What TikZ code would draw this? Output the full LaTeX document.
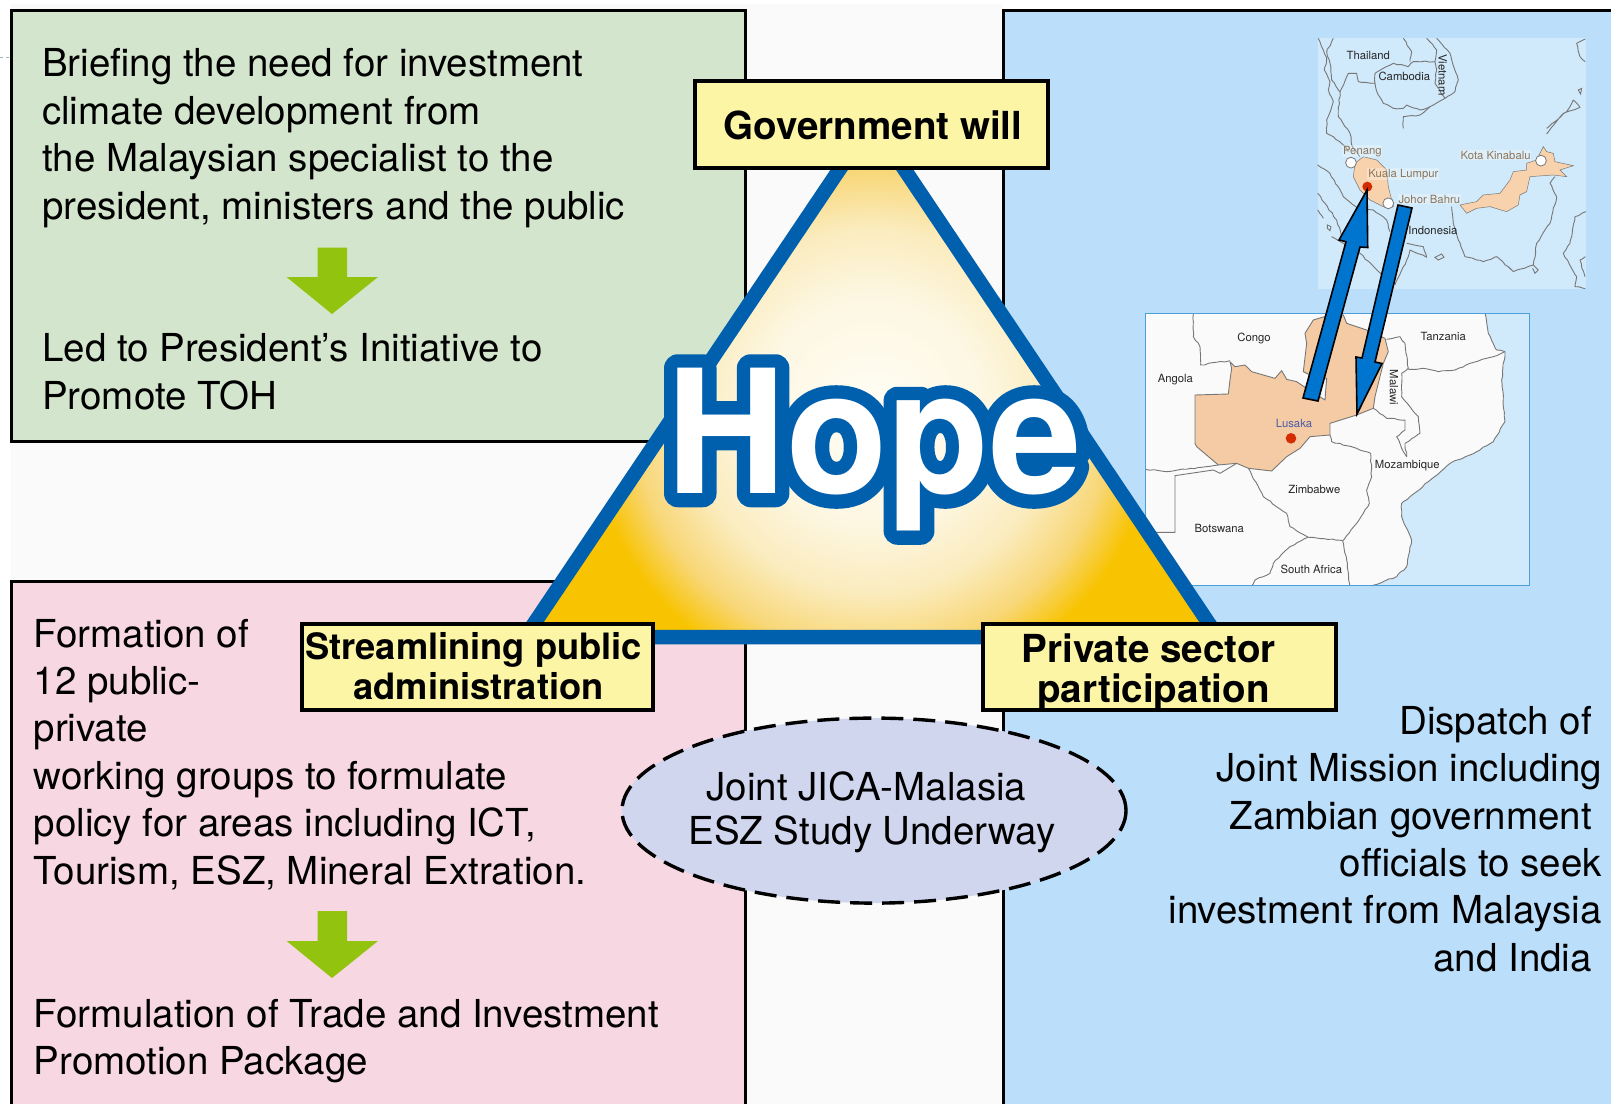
\documentclass[tikz,border=0pt]{standalone}
\usepackage{fontspec}
\usetikzlibrary{shapes.geometric,decorations.pathmorphing}
\setmainfont{TeX Gyre Heros}
\newfontfamily\hopefont[FakeBold=16,FakeStretch=0.965]{TeX Gyre Heros Bold}
\newfontfamily\hopeplain[FakeStretch=0.965]{TeX Gyre Heros Bold}
\definecolor{pagegrey}{HTML}{FAFAFA}
\definecolor{panelgreen}{HTML}{D3E5CC}
\definecolor{panelpink}{HTML}{F7D7E2}
\definecolor{panelblue}{HTML}{BBDEFA}
\definecolor{tagyellow}{HTML}{FBF5A5}
\definecolor{triblue}{HTML}{0060AE}
\definecolor{gold}{HTML}{F8C300}
\definecolor{glowa}{HTML}{FFFDF5}
\definecolor{glowb}{HTML}{FDF7E2}
\definecolor{glowc}{HTML}{FBECBE}
\definecolor{glowd}{HTML}{F8D778}
\definecolor{arrowgreen}{HTML}{92C30F}
\definecolor{ovalblue}{HTML}{D1D6EF}
\definecolor{seablue}{HTML}{D0E9FB}
\definecolor{mapedge}{HTML}{4A9FD8}
\definecolor{coast}{HTML}{777777}
\definecolor{zambia}{HTML}{F4CBA4}
\definecolor{malay}{HTML}{F8D2AC}
\definecolor{mapbrown}{HTML}{8C7558}
\definecolor{mapblue}{HTML}{4A5CA8}
\definecolor{dotred}{HTML}{D52B00}
\definecolor{linkblue}{HTML}{0075D0}
\definecolor{stray}{HTML}{9FB5BE}
\pgfdeclareradialshading{hopeglow}{\pgfpoint{0bp}{0bp}}{%
color(0bp)=(glowa);
color(10bp)=(glowb);
color(16bp)=(glowc);
color(21bp)=(glowd);
color(25bp)=(gold);
color(50bp)=(gold)}
\tikzset{
  panel/.style={line width=3pt,draw=black},
  bodytext/.style={inner sep=0pt,align=left,anchor=north west,font=\fontsize{38.5}{47.4}\selectfont,text=black},
  tagbox/.style={draw=black,fill=tagyellow,line width=4pt,inner sep=0pt},
  tagtext/.style={inner sep=0pt,align=center,font=\fontsize{#1}{40}\selectfont\bfseries},
  maplabel/.style={inner sep=0pt,font=\fontsize{11.3}{12}\selectfont,text=black!85},
  citylabel/.style={maplabel,text=mapbrown,fill=white,fill opacity=0.3,text opacity=1,inner sep=0.8pt},
  coastline/.style={draw=coast,line width=0.9pt,line join=round,decorate,decoration={random steps,segment length=4pt,amplitude=0.6pt}},
  linkarrow/.style={fill=linkblue,draw=black,line width=1.6pt,line join=miter},
  downgreen/.style={fill=arrowgreen},
}
\pgfmathsetseed{7}
\begin{document}
\begin{tikzpicture}[x=1pt,y=-1pt]
\useasboundingbox (0,0) rectangle (1611,1104);
\fill[white] (0,0) rectangle (1611,1104);
\fill[pagegrey] (11,4) rectangle (1003,1104);
\draw[dashed,draw=stray,line width=0.8pt] (0,57) -- (10,57);
% panels
\fill[panelgreen] (11,10) rectangle (745,441);
\draw[panel] (11,10) rectangle (745,441);
\fill[panelpink] (11,581) rectangle (745,1104);
\draw[panel] (11,1104) -- (11,581) -- (745,581) -- (745,1104);
\fill[panelblue] (1003,10) rectangle (1611,1104);
\draw[panel] (1611,10) -- (1003,10) -- (1003,1104);
% upper map
\begin{scope}[shift={(1130,20)},x=0.3333pt,y=-0.3333pt]
\fill[seablue] (563,53) rectangle (1368,808);
\draw[coastline] (565,55) -- (580,90) -- (590,120) -- (583,150) -- (600,185) -- (595,210) -- (610,245) -- (590,300) -- (590,340) -- (610,350) -- (640,375) -- (655,395);
\draw[coastline] (610,55) -- (590,95) -- (600,130) -- (605,180) -- (630,215) -- (625,290) -- (660,340) -- (665,375) -- (690,410);
\draw[coastline] (630,215) -- (655,160) -- (680,160) -- (685,185) -- (735,190) -- (745,225) -- (760,250) -- (790,265) -- (820,265) -- (830,255) -- (870,270) -- (900,260) -- (945,235) -- (975,215) -- (985,180) -- (960,100) -- (920,55);
\draw[coastline] (820,325) -- (820,290) -- (870,285) -- (900,260);
\draw[coastline] (735,190) -- (735,160) -- (790,130) -- (835,140) -- (850,125) -- (915,125) -- (920,150) -- (915,190) -- (945,235);
\draw[coastline] (820,55) -- (845,95) -- (840,125);
\draw[coastline] (890,55) -- (920,90) -- (915,125);
\draw[coastline] (563,435) -- (600,460) -- (640,530) -- (690,570) -- (730,570) -- (770,600) -- (780,635);
\draw[coastline] (563,520) -- (620,600) -- (640,660);
\draw[coastline] (563,570) -- (580,595);
\draw[draw=coast,line width=0.9pt] (592,615) -- (603,620) -- (600,632) -- (592,625) -- cycle;
\draw[coastline] (605,650) -- (640,670) -- (690,700) -- (760,770) -- (755,800);
\draw[coastline] (830,670) -- (880,680) -- (890,712) -- (840,690) -- (830,720) -- (795,795);
\draw[draw=coast,line width=0.9pt] (915,712) -- (935,702) -- (942,712) -- (925,720) -- cycle;
\draw[coastline] (965,560) -- (970,610) -- (985,660) -- (1005,710) -- (1060,725) -- (1100,710) -- (1150,755) -- (1210,735) -- (1220,670) -- (1260,610) -- (1280,530) -- (1260,490) -- (1275,470);
\draw[draw=coast,line width=0.9pt] (1210,735) -- (1225,750) -- (1215,760) -- (1208,745);
\draw[coastline] (1368,575) -- (1335,590) -- (1320,670) -- (1300,700) -- (1340,770) -- (1335,800) -- (1366,806);
\draw[coastline] (1366,710) -- (1350,720) -- (1365,770);
\draw[coastline] (1250,342) -- (1300,280) -- (1350,262) -- (1330,240) -- (1310,275) -- (1250,325);
\draw[coastline] (1366,57) -- (1340,70) -- (1350,110) -- (1366,125);
\draw[draw=coast,line width=0.9pt] (1345,210) -- (1355,205) -- (1352,222) -- cycle;
\filldraw[fill=malay,draw=coast,line width=0.5pt] (675,430) -- (700,410) -- (740,420) -- (770,450) -- (775,500) -- (790,560) -- (760,560) -- (720,540) -- (690,510) -- (670,470) -- cycle;
\filldraw[fill=malay,draw=coast,line width=0.5pt] (990,555) -- (1040,545) -- (1060,525) -- (1110,520) -- (1140,480) -- (1150,455) -- (1190,450) -- (1190,430) -- (1220,420) -- (1240,380) -- (1250,395) -- (1270,400) -- (1275,425) -- (1330,437) -- (1290,450) -- (1310,470) -- (1270,465) -- (1200,470) -- (1190,515) -- (1170,525) -- (1165,555) -- (1130,575) -- (1080,560) -- (1040,565) -- (1010,580) -- cycle;
\filldraw[fill=white,draw=coast,line width=0.8pt] (663,428) circle[radius=5.4pt];
\filldraw[fill=white,draw=coast,line width=0.8pt] (775,550) circle[radius=5.4pt];
\filldraw[fill=white,draw=coast,line width=0.8pt] (1233,422) circle[radius=5.4pt];
\fill[dotred] (712,500) circle[radius=5pt];
\node[maplabel] (thailand) at (715,105) {Thailand};
\node[maplabel] (cambodia) at (823,170) {Cambodia};
\node[maplabel,rotate=-90] (vietnam) at (938,165) {Vietnam};
\node[citylabel] (penang) at (697,394) {Penang};
\node[citylabel] (kl) at (820,463) {Kuala Lumpur};
\node[citylabel] (johor) at (898,538) {Johor Bahru};
\node[citylabel] (kota) at (1097,405) {Kota Kinabalu};
\node[maplabel] (indonesia) at (909,632) {Indonesia};
\end{scope}
% lower map
\begin{scope}[shift={(1130,300)},x=0.3333pt,y=-0.3333pt]
\fill[seablue] (47,40) rectangle (1198,858);
\fill[pagegrey] (47,40) -- (1065,40) -- (1075,100) -- (1100,150) -- (1125,155) -- (1115,240) -- (1125,365) -- (1090,425) -- (1040,455) -- (960,490) -- (860,575) -- (815,610) -- (815,650) -- (845,720) -- (830,800) -- (800,830) -- (725,858) -- (47,858) -- cycle;
\draw[coastline] (1065,40) -- (1075,100) -- (1100,150) -- (1125,155) -- (1115,240) -- (1125,365) -- (1090,425) -- (1040,455) -- (960,490) -- (860,575) -- (815,610) -- (815,650) -- (845,720) -- (830,800) -- (800,830) -- (725,858);
\filldraw[fill=zambia,draw=coast,line width=0.9pt,line join=round] (195,285) -- (295,282) -- (300,240) -- (305,205) -- (300,185) -- (315,200) -- (345,195) -- (365,215) -- (435,235) -- (455,212) -- (470,238) -- (500,245) -- (525,262) -- (585,300) -- (590,235) -- (540,225) -- (520,215) -- (530,130) -- (525,100) -- (550,60) -- (600,45) -- (640,45) -- (650,70) -- (710,90) -- (765,115) -- (775,155) -- (760,190) -- (735,290) -- (730,325) -- (680,345) -- (600,370) -- (600,405) -- (540,410) -- (510,445) -- (470,470) -- (425,513) -- (355,505) -- (320,490) -- (265,495) -- (200,440) -- (195,430) -- cycle;
\draw[coastline] (190,42) -- (190,110) -- (210,140) -- (212,195) -- (300,182);
\draw[coastline] (47,508) -- (110,515) -- (265,495);
\draw[draw=coast,line width=0.9pt] (47,697) -- (135,697) -- (135,527) -- (250,510) -- (270,520) -- (320,490);
\draw[coastline] (355,505) -- (400,590) -- (470,640) -- (480,680) -- (535,712);
\draw[coastline] (600,405) -- (605,425) -- (680,445) -- (722,460) -- (725,530) -- (710,570) -- (718,610) -- (680,670) -- (638,722);
\draw[coastline] (535,712) -- (638,722);
\draw[coastline] (535,712) -- (480,740) -- (430,790) -- (420,820) -- (375,840) -- (365,858);
\draw[coastline] (638,722) -- (650,780) -- (660,858);
\draw[coastline] (730,325) -- (770,355) -- (825,360) -- (825,390) -- (800,410) -- (815,445) -- (830,470) -- (825,430) -- (870,400) -- (865,350) -- (815,290) -- (815,220) -- (835,205) -- (825,130) -- (810,110) -- (770,118);
\draw[coastline] (835,208) -- (880,205) -- (925,215) -- (975,210) -- (1020,190) -- (1090,170) -- (1125,155);
\draw[mapedge,line width=1pt] (47,40) rectangle (1198,858);
\fill[dotred] (483,415) circle[radius=5.3pt];
\node[maplabel] (congo) at (372,115) {Congo};
\node[maplabel] (angola) at (136,238) {Angola};
\node[maplabel] (tanzania) at (940,108) {Tanzania};
\node[maplabel,rotate=-90] (malawi) at (792,262) {Malawi};
\node[maplabel] (mozambique) at (832,498) {Mozambique};
\node[maplabel] (zimbabwe) at (553,567) {Zimbabwe};
\node[maplabel] (botswana) at (268,686) {Botswana};
\node[maplabel] (southafrica) at (544,807) {South Africa};
\node[maplabel,text=mapblue] (lusaka) at (492,370) {Lusaka};
\end{scope}
% link arrows
\filldraw[linkarrow] (1367,190) -- (1339,240) -- (1346,241.7) -- (1303,398) -- (1318,401) -- (1360,247) -- (1367.7,247.5) -- cycle;
\filldraw[linkarrow] (1398,205) -- (1412,208) -- (1375,362) -- (1382,363.5) -- (1357,414) -- (1356,357) -- (1362,358) -- cycle;
% triangle
\begin{scope}
\clip (872,121) -- (1218,637) -- (525,637) -- cycle;
\fill[gold] (500,100) rectangle (1240,660);
\shade[shading=hopeglow] (872,410) circle[radius=285];
\end{scope}
\draw[triblue,line width=14.5pt,line join=miter] (872,121) -- (1218,637) -- (525,637) -- cycle;
% Hope
\node[inner sep=0pt,text=triblue,font=\fontsize{172}{172}\hopefont] (hopeoutline) at (874,449.5) {\pgfsetroundjoin Hope};
\node[inner sep=0pt,text=white,font=\fontsize{172}{172}\hopeplain] (hope) at (874,449.5) {Hope};
% tags
\node[tagbox,minimum width=353pt,minimum height=87pt] (will) at (871.8,124) {};
\node[tagtext=38.6] (willtext) at (873,125) {Government will};
\node[tagbox,minimum width=351pt,minimum height=86pt,anchor=north west] (admin) at (300,622) {};
\node[tagtext=36.3] (admintext) at (473.6,666.3) {Streamlining public\\\hspace*{10pt}administration};
\node[tagbox,minimum width=352.5pt,minimum height=86pt,anchor=north west] (private) at (981,622) {};
\node[tagtext=38.6] (privatetext) at (1148.6,672) {Private sector\\\hspace*{10pt}participation};
% oval
\node[ellipse,draw=black,dash pattern=on 22pt off 10pt,line width=3.4pt,fill=ovalblue,minimum width=504pt,minimum height=185pt,inner sep=0pt] (oval) at (874,810.6) {};
\node[inner sep=0pt,align=center,font=\fontsize{38.5}{44}\selectfont] (ovaltext) at (872,812.5) {Joint JICA-Malasia\rule{11pt}{0pt}\\ESZ Study Underway};
% body
\node[bodytext] (green1) at (42,48.6) {Briefing the need for investment\\climate development from\\the Malaysian specialist to the\\president, ministers and the public};
\fill[downgreen] (317.5,247.6) -- (347,247.6) -- (347,277) -- (378,277) -- (332,314) -- (286.6,277) -- (317.5,277) -- cycle;
\node[bodytext] (green2) at (42,333.7) {Led to President’s Initiative to\\Promote TOH};
\node[bodytext] (pink1) at (33.5,618.7) {Formation of\\12 public-\\private\\working groups to formulate\\policy for areas including ICT,\\Tourism, ESZ, Mineral Extration.};
\fill[downgreen] (317.5,911) -- (347,911) -- (347,941) -- (378,941) -- (332,978) -- (286.6,941) -- (317.5,941) -- cycle;
\node[bodytext] (pink2) at (33.5,998.7) {Formulation of Trade and Investment\\Promotion Package};
\node[bodytext,align=right,anchor=north east] (bluetext) at (1602,706) {Dispatch of\rule{10pt}{0pt}\\Joint Mission including\\Zambian government\rule{10pt}{0pt}\\officials to seek\\investment from Malaysia\\and India\rule{10pt}{0pt}};
\end{tikzpicture}
\end{document}
